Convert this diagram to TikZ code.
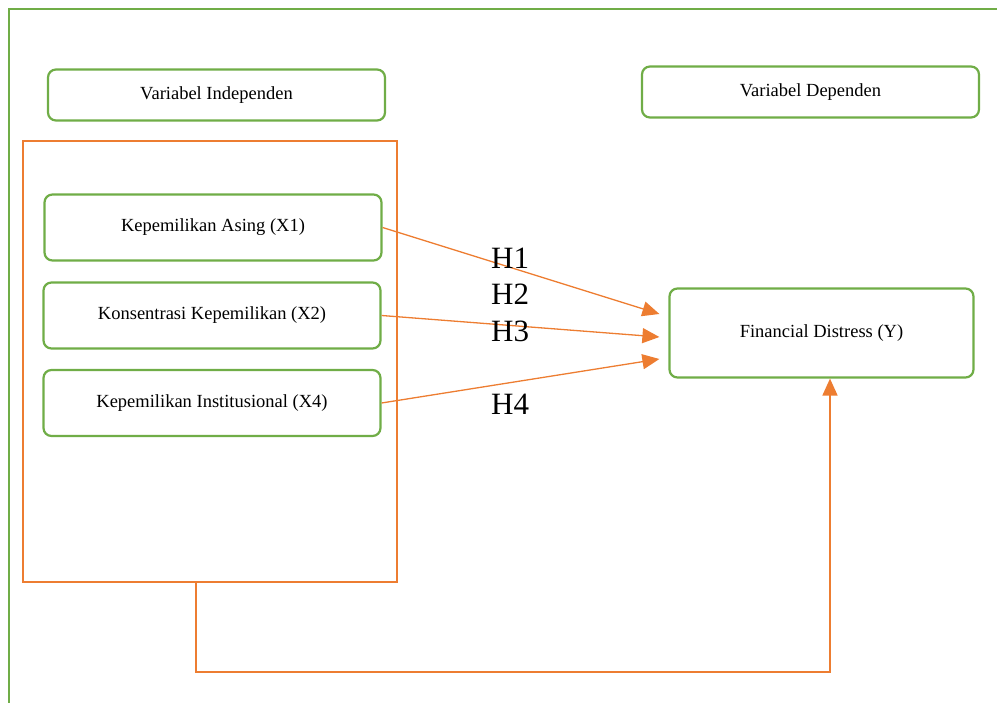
\documentclass[tikz,border=0pt]{standalone}
\usepackage{fontspec}
\setmainfont{Liberation Serif}
\usetikzlibrary{arrows.meta}
\definecolor{boxgreen}{HTML}{70AD47}
\definecolor{lineorange}{HTML}{ED7D31}

\begin{document}
\begin{tikzpicture}[x=1pt,y=-1pt]
\tikzstyle{every node}=[inner sep=0pt, font=\fontsize{18.5}{22}\selectfont]
\tikzstyle{varbox}=[draw=boxgreen, line width=2.2pt, rounded corners=8pt, fill=white, minimum width=337pt, minimum height=66pt]
\tikzstyle{hyp}=[anchor=base west, font=\fontsize{31}{36}\selectfont]
\tikzstyle{link}=[draw=lineorange, line width=1.3pt, -{Triangle[length=17pt,width=15pt]}]
\useasboundingbox (0,0) rectangle (997,703);
\draw[boxgreen, line width=2pt] (9,703) -- (9,9) -- (997,9);
\node (grp) [draw=lineorange, line width=1.3pt, minimum width=374pt, minimum height=441pt] at (210,361.5) {};
\node (vi) [varbox, minimum height=51pt] at (216.5,95) {Variabel Independen};
\node (vd) [varbox, minimum height=51pt] at (810.5,92) {Variabel Dependen};
\node (xa) [varbox] at (213,227.5) {Kepemilikan Asing (X1)};
\node (x2) [varbox] at (212,315.5) {Konsentrasi Kepemilikan (X2)};
\node (x4) [varbox] at (212,403) {Kepemilikan Institusional (X4)};
\node (fd) [varbox, minimum width=304pt, minimum height=89pt] at (821.5,333) {Financial Distress (Y)};
\draw[link] (xa.east) -- ([xshift=-9pt,yshift=19pt]fd.west);
\draw[link] (x2.east) -- ([xshift=-9pt,yshift=-4pt]fd.west);
\draw[link] (x4.east) -- ([xshift=-9pt,yshift=-26pt]fd.west);
\node (h1) [hyp] at (491,269) {H1};
\node (h2) [hyp] at (491,305) {H2};
\node (h3) [hyp] at (491,342) {H3};
\node (h4) [hyp] at (491,415) {H4};
\draw[link, line width=1.7pt] ([xshift=-14pt]grp.south) -- ++(0,89) -| ([xshift=8.5pt]fd.south);
\end{tikzpicture}
\end{document}
